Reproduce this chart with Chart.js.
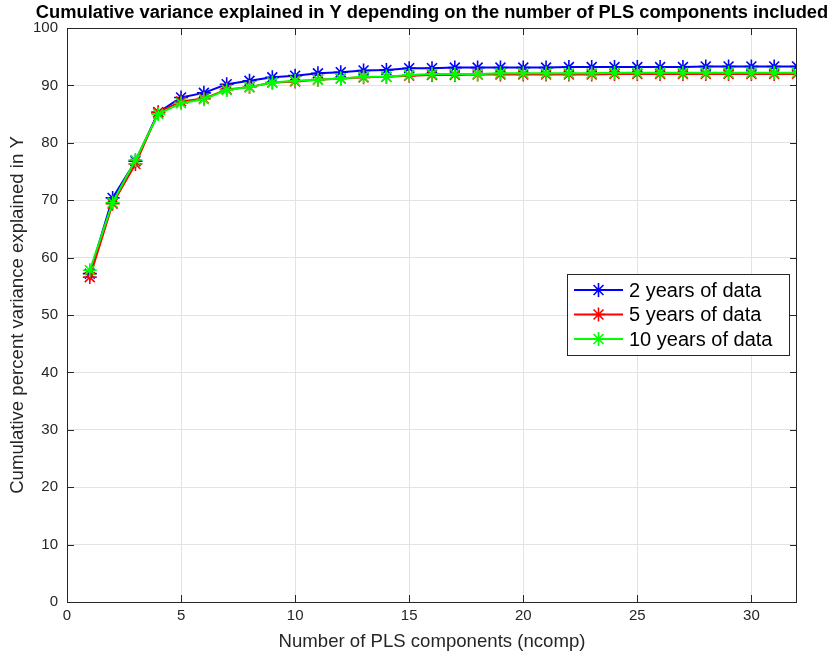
<!DOCTYPE html>
<html>
<head>
<meta charset="utf-8">
<title>PLS components</title>
<script src="https://cdn.jsdelivr.net/npm/chart.js@4.4.1/dist/chart.umd.min.js"></script>
<style>
    body { margin: 0; background: #fff; }
    #pls_chart { display: block; }
</style>
</head>
<body>
<canvas id="pls_chart" width="833" height="655"></canvas>
<script>
// number of PLS components (ncomp)
var ncomp = [1, 2, 3, 4, 5, 6, 7, 8, 9, 10, 11, 12, 13, 14, 15, 16,
             17, 18, 19, 20, 21, 22, 23, 24, 25, 26, 27, 28, 29, 30, 31, 32];

// cumulative % variance explained in Y
var years2 = [57.2, 70.4, 76.8, 85.3, 87.9, 88.7, 90.2, 90.8, 91.4, 91.7, 92.1, 92.3, 92.6, 92.7, 93.0, 93.0,
              93.1, 93.1, 93.1, 93.1, 93.1, 93.2, 93.2, 93.2, 93.2, 93.2, 93.2, 93.3, 93.3, 93.3, 93.3, 93.3];
var years5 = [56.6, 69.4, 76.3, 85.3, 87.2, 87.7, 89.3, 89.7, 90.5, 90.7, 91.0, 91.2, 91.4, 91.5, 91.7, 91.8,
              91.8, 91.9, 91.9, 91.9, 91.9, 91.9, 91.9, 92.0, 92.0, 92.0, 92.0, 92.0, 92.0, 92.0, 92.0, 92.0];
var years10 = [57.8, 69.6, 77.0, 85.0, 86.9, 87.6, 89.2, 89.7, 90.5, 90.8, 91.0, 91.2, 91.5, 91.5, 91.8, 92.0,
               92.0, 92.0, 92.1, 92.1, 92.1, 92.1, 92.1, 92.2, 92.2, 92.2, 92.2, 92.2, 92.2, 92.2, 92.2, 92.2];

var seriesLabels = ['2 years of data', '5 years of data', '10 years of data'];
var seriesColors = ['#0000ff', '#ff0000', '#00ff00'];

var xTicks = [0, 5, 10, 15, 20, 25, 30];
var yTicks = [0, 10, 20, 30, 40, 50, 60, 70, 80, 90, 100];

var titleText = 'Cumulative variance explained in Y depending on the number of PLS components included';
var xTitle = 'Number of PLS components (ncomp)';
var yTitle = 'Cumulative percent variance explained in Y';

var axisColor = '#262626';
var gridColor = '#e3e3e3';
var fontFamily = '"Liberation Sans", Arial, Helvetica, sans-serif';

Chart.defaults.font.family = fontFamily;

function toPoints(values) {
    var pts = [];
    for (var i = 0; i < values.length; i++) {
        pts.push({ x: ncomp[i], y: values[i] });
    }
    return pts;
}

// asterisk marker, same as the one on the lines
function drawStar(ctx, x, y, r) {
    var d = r * Math.SQRT1_2;
    ctx.beginPath();
    ctx.moveTo(x - r, y); ctx.lineTo(x + r, y);
    ctx.moveTo(x, y - r); ctx.lineTo(x, y + r);
    ctx.moveTo(x - d, y - d); ctx.lineTo(x + d, y + d);
    ctx.moveTo(x - d, y + d); ctx.lineTo(x + d, y - d);
    ctx.stroke();
}

// title, axes box with inward ticks, and legend box inside the plot
var framePlugin = {
    id: 'frame',
    afterDatasetsDraw: function(chart) {
        var ctx = chart.ctx;
        var a = chart.chartArea;
        var xs = chart.scales.x;
        var ys = chart.scales.y;
        var tick = 7;

        ctx.save();
        ctx.strokeStyle = axisColor;
        ctx.lineWidth = 1;
        ctx.strokeRect(Math.round(a.left) + 0.5, Math.round(a.top) + 0.5,
                       Math.round(a.right - a.left) - 1, Math.round(a.bottom - a.top));

        ctx.beginPath();
        xTicks.forEach(function(v) {
            var px = Math.round(xs.getPixelForValue(v)) + 0.5;
            ctx.moveTo(px, a.bottom); ctx.lineTo(px, a.bottom - tick);
            ctx.moveTo(px, a.top); ctx.lineTo(px, a.top + tick);
        });
        yTicks.forEach(function(v) {
            var py = Math.round(ys.getPixelForValue(v)) + 0.5;
            ctx.moveTo(a.left, py); ctx.lineTo(a.left + tick, py);
            ctx.moveTo(a.right, py); ctx.lineTo(a.right - tick, py);
        });
        ctx.stroke();

        // title
        ctx.fillStyle = '#000';
        ctx.font = 'bold 18.3px ' + fontFamily;
        ctx.textAlign = 'center';
        ctx.textBaseline = 'middle';
        ctx.fillText(titleText, (a.left + a.right) / 2, 13);

        // legend
        var lx = 567.5, ly = 274.5, lw = 222, lh = 81;
        ctx.fillStyle = '#fff';
        ctx.fillRect(lx, ly, lw, lh);
        ctx.strokeStyle = axisColor;
        ctx.strokeRect(lx, ly, lw, lh);
        ctx.font = '20px ' + fontFamily;
        ctx.textAlign = 'left';
        for (var i = 0; i < seriesLabels.length; i++) {
            var ry = 290 + i * 24.5;
            ctx.strokeStyle = seriesColors[i];
            ctx.lineWidth = 2;
            ctx.beginPath();
            ctx.moveTo(574, ry); ctx.lineTo(623, ry);
            ctx.stroke();
            ctx.lineWidth = 1.6;
            drawStar(ctx, 598.5, ry, 7);
            ctx.fillStyle = '#000';
            ctx.fillText(seriesLabels[i], 629, ry + 1);
        }
        ctx.restore();
    }
};

var datasets = [];
var allValues = [years2, years5, years10];
for (var i = 0; i < allValues.length; i++) {
    datasets.push({
        label: seriesLabels[i],
        data: toPoints(allValues[i]),
        borderColor: seriesColors[i],
        backgroundColor: seriesColors[i],
        borderWidth: 2,
        pointStyle: 'star',
        pointRadius: 7,
        pointBorderWidth: 1.6,
        pointHoverRadius: 7,
        tension: 0,
        order: allValues.length - i
    });
}

var ctx = document.getElementById('pls_chart').getContext('2d');
var plsChart = new Chart(ctx, {
    type: 'line',
    data: { datasets: datasets },
    options: {
        responsive: false,
        animation: false,
        events: [],
        layout: { padding: { top: 28, right: 36, left: 0, bottom: 0 } },
        plugins: {
            legend: { display: false },
            tooltip: { enabled: false }
        },
        scales: {
            x: {
                type: 'linear',
                min: 0,
                max: 32,
                afterFit: function(scale) { scale.height = 53; },
                afterBuildTicks: function(scale) {
                    scale.ticks = xTicks.map(function(v) { return { value: v }; });
                },
                ticks: { color: axisColor, font: { size: 15 }, padding: 5, maxRotation: 0 },
                grid: { color: gridColor, drawTicks: false },
                border: { display: false },
                title: { display: true, text: xTitle, color: axisColor, font: { size: 18.6 }, padding: { top: 2, bottom: 2 } }
            },
            y: {
                min: 0,
                max: 100,
                afterFit: function(scale) { scale.width = 67; },
                afterBuildTicks: function(scale) {
                    scale.ticks = yTicks.map(function(v) { return { value: v }; });
                },
                ticks: { color: axisColor, font: { size: 15 }, padding: 9 },
                grid: { color: gridColor, drawTicks: false },
                border: { display: false },
                title: { display: true, text: yTitle, color: axisColor, font: { size: 18.6 }, padding: { top: 7, bottom: 2 } }
            }
        }
    },
    plugins: [framePlugin]
});
</script>
</body>
</html>
